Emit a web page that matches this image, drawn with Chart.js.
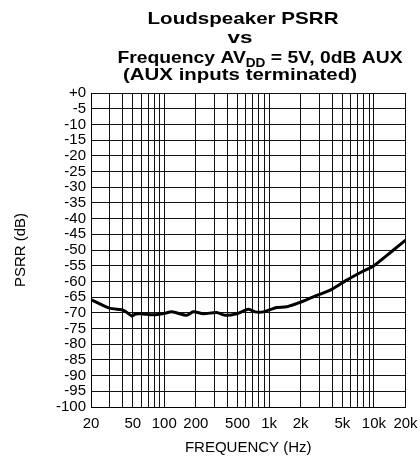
<!DOCTYPE html>
<html>
<head>
<meta charset="utf-8">
<script src="https://cdn.jsdelivr.net/npm/chart.js@4.4.1/dist/chart.umd.min.js"></script>
<style>
  html, body { margin: 0; padding: 0; background: #fff; }
  #wrap { width: 420px; height: 464px; }
</style>
</head>
<body>
<div id="wrap"><canvas id="myChart" width="420" height="464"></canvas></div>
<script>
// Curve
const freqHz = [20, 30, 39, 42, 49, 53, 59, 79, 100, 118, 164, 189, 236, 316, 380, 491, 634, 734, 881, 1180, 1470, 1970, 2640, 3820, 5500, 7930, 9890, 15350, 20000];
const psrrDb = [-65.8, -68.5, -69, -69.4, -71, -70.4, -70.3, -70.6, -70.2, -69.7, -70.8, -69.7, -70.3, -69.9, -70.8, -70.3, -68.9, -69.7, -69.7, -68.3, -68.1, -66.7, -64.9, -62.8, -59.6, -56.7, -55.1, -50, -46.9];

// Axis ticks
const gridFreqs = [20, 30, 40, 50, 60, 70, 80, 90, 100, 200, 300, 400, 500, 600, 700, 800, 900,
  1000, 2000, 3000, 4000, 5000, 6000, 7000, 8000, 9000, 10000, 20000];
const labelFreqs = [20, 50, 100, 200, 500, 1000, 2000, 5000, 10000, 20000];
const labelText = ['20', '50', '100', '200', '500', '1k', '2k', '5k', '10k', '20k'];

const titleLines = [
  [{ t: 'Loudspeaker PSRR' }],
  [{ t: 'vs' }],
  [{ t: 'Frequency AV' }, { t: 'DD', sub: true }, { t: ' = 5V, 0dB AUX' }],
  [{ t: '(AUX inputs terminated)' }]
];

// Draw the multi-line title (with subscript) by hand
const titlePlugin = {
  id: 'titleLines',
  afterDraw(chart) {
    const ctx = chart.ctx;
    const place = [
      { cx: 243, y: 24, w: 191 },
      { cx: 240, y: 43, w: 25 },
      { cx: 260, y: 63, w: 285 },
      { cx: 240, y: 80, w: 234 }
    ];
    const big = 'bold 17px Arial, "Liberation Sans", sans-serif';
    const small = 'bold 12px Arial, "Liberation Sans", sans-serif';
    ctx.save();
    ctx.fillStyle = '#000';
    ctx.textBaseline = 'alphabetic';
    ctx.textAlign = 'left';
    titleLines.forEach((parts, i) => {
      let total = 0;
      parts.forEach(p => {
        ctx.font = p.sub ? small : big;
        total += ctx.measureText(p.t).width;
      });
      const sx = place[i].w / total;
      ctx.save();
      ctx.translate(place[i].cx, place[i].y);
      ctx.scale(sx, 1);
      let x = -total / 2;
      parts.forEach(p => {
        ctx.font = p.sub ? small : big;
        ctx.fillText(p.t, x, p.sub ? 4 : 0);
        x += ctx.measureText(p.t).width;
      });
      ctx.restore();
    });
    ctx.restore();
  }
};

const tickFont = { family: 'Arial, "Liberation Sans", sans-serif', size: 15 };

const ctx = document.getElementById('myChart').getContext('2d');
const myChart = new Chart(ctx, {
  type: 'line',
  data: {
    datasets: [{
      data: freqHz.map((f, i) => ({ x: f, y: psrrDb[i] })),
      borderColor: '#000',
      borderWidth: 3,
      pointRadius: 0,
      tension: 0.25,
      fill: false
    }]
  },
  options: {
    responsive: false,
    animation: false,
    events: [],
    layout: { padding: { top: 93, right: 14.5, bottom: 0, left: 0 } },
    plugins: {
      legend: { display: false },
      tooltip: { enabled: false }
    },
    scales: {
      x: {
        type: 'logarithmic',
        min: 20,
        max: 20000,
        afterBuildTicks: (axis) => {
          axis.ticks = gridFreqs.map(v => ({ value: v }));
        },
        afterFit: (axis) => {
          axis.height = 57;
          axis.paddingLeft = 0;
          axis.paddingRight = 0;
        },
        ticks: {
          autoSkip: false,
          maxRotation: 0,
          padding: 8,
          color: '#000',
          font: tickFont,
          callback: (value) => {
            const k = labelFreqs.indexOf(value);
            return k >= 0 ? labelText[k] : '';
          }
        },
        grid: { color: '#111', lineWidth: 1, drawTicks: false },
        border: { color: '#000', width: 1 },
        title: {
          display: true,
          text: 'FREQUENCY (Hz)',
          color: '#000',
          font: tickFont,
          padding: { top: 0, bottom: 7 }
        }
      },
      y: {
        min: -100,
        max: 0,
        afterFit: (axis) => { axis.width = 91; },
        ticks: {
          stepSize: 5,
          autoSkip: false,
          padding: 5,
          color: '#000',
          font: tickFont,
          callback: (v) => (v === 0 ? '+0' : String(v))
        },
        grid: { color: '#111', lineWidth: 1, drawTicks: false },
        border: { color: '#000', width: 1 },
        title: {
          display: true,
          text: 'PSRR (dB)',
          color: '#000',
          font: tickFont,
          padding: { top: 12, bottom: 0 }
        }
      }
    }
  },
  plugins: [titlePlugin]
});
</script>
</body>
</html>
